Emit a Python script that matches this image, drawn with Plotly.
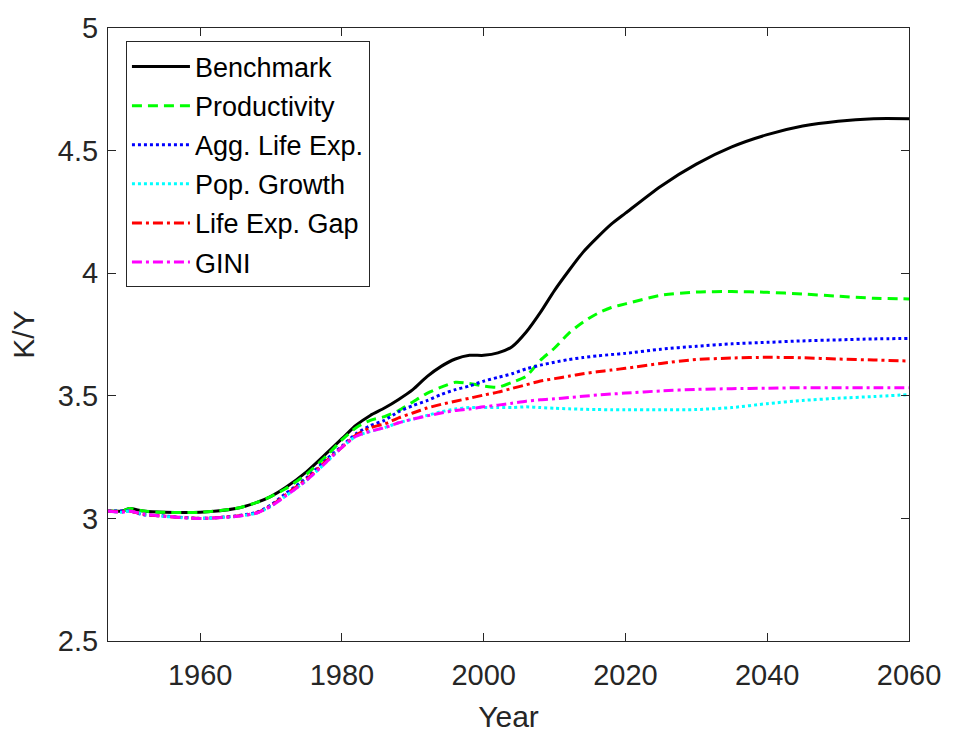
import plotly.graph_objects as go

years = [1947, 1949, 1950, 1952, 1955, 1960, 1965, 1968, 1970, 1972, 1975, 1978,
         1980, 1982, 1984, 1986, 1988, 1990, 1992, 1994, 1996, 1998, 2000, 2002,
         2004, 2006, 2008, 2010, 2012, 2014, 2016, 2018, 2020, 2025, 2030, 2035,
         2040, 2045, 2050, 2055, 2060]

benchmark = [3.03, 3.03, 3.04, 3.03, 3.025, 3.025, 3.04, 3.065, 3.09, 3.125, 3.19, 3.27,
             3.325, 3.38, 3.42, 3.45, 3.485, 3.525, 3.578, 3.62, 3.65, 3.665, 3.665, 3.675,
             3.70, 3.76, 3.84, 3.93, 4.01, 4.085, 4.145, 4.20, 4.245, 4.355, 4.445, 4.515,
             4.565, 4.60, 4.62, 4.63, 4.63]

productivity = [3.03, 3.03, 3.04, 3.03, 3.025, 3.025, 3.04, 3.065, 3.09, 3.12, 3.18, 3.26,
                3.32, 3.37, 3.40, 3.415, 3.44, 3.475, 3.51, 3.535, 3.555, 3.55, 3.54, 3.535,
                3.555, 3.58, 3.645, 3.695, 3.755, 3.80, 3.835, 3.86, 3.875, 3.91, 3.923, 3.925,
                3.922, 3.915, 3.906, 3.898, 3.895]

agg_life_exp = [3.03, 3.03, 3.03, 3.015, 3.01, 3.0, 3.01, 3.025, 3.055, 3.10, 3.165, 3.245,
                3.295, 3.345, 3.378, 3.40, 3.435, 3.46, 3.48, 3.505, 3.525, 3.54, 3.56, 3.575,
                3.59, 3.61, 3.625, 3.637, 3.648, 3.656, 3.663, 3.668, 3.673, 3.69, 3.702, 3.712,
                3.718, 3.724, 3.728, 3.732, 3.734]

pop_growth = [3.03, 3.025, 3.03, 3.018, 3.008, 3.0, 3.008, 3.022, 3.05, 3.09, 3.155, 3.235,
              3.29, 3.335, 3.355, 3.37, 3.39, 3.405, 3.42, 3.435, 3.446, 3.452, 3.452, 3.452,
              3.452, 3.455, 3.452, 3.449, 3.447, 3.445, 3.444, 3.443, 3.443, 3.443, 3.444, 3.452,
              3.468, 3.481, 3.49, 3.497, 3.505]

life_exp_gap = [3.03, 3.027, 3.03, 3.017, 3.009, 3.0, 3.009, 3.023, 3.052, 3.095, 3.16, 3.24,
                3.29, 3.34, 3.37, 3.385, 3.41, 3.43, 3.45, 3.465, 3.478, 3.49, 3.503, 3.515,
                3.53, 3.545, 3.56, 3.57, 3.58, 3.59, 3.598, 3.605, 3.612, 3.632, 3.648, 3.654,
                3.657, 3.655, 3.65, 3.646, 3.642]

gini = [3.03, 3.025, 3.03, 3.018, 3.008, 3.0, 3.008, 3.022, 3.05, 3.09, 3.155, 3.235,
        3.29, 3.335, 3.355, 3.37, 3.39, 3.405, 3.418, 3.43, 3.44, 3.446, 3.455, 3.462,
        3.47, 3.478, 3.484, 3.488, 3.493, 3.498, 3.503, 3.507, 3.511, 3.52, 3.526, 3.529,
        3.531, 3.533, 3.533, 3.533, 3.533]

series = [
    ("Benchmark", benchmark, "#000000", "solid"),
    ("Productivity", productivity, "#00ff00", "10px,6px"),
    ("Agg. Life Exp.", agg_life_exp, "#0000ff", "3px,3px"),
    ("Pop. Growth", pop_growth, "#00ffff", "3px,3px"),
    ("Life Exp. Gap", life_exp_gap, "#ff0000", "10px,4px,3px,4px"),
    ("GINI", gini, "#ff00ff", "10px,4px,3px,4px"),
]

FONT = "Liberation Sans, Arial, sans-serif"
TXT = "#262626"

fig = go.Figure()
for i, (name, vals, color, dash) in enumerate(series):
    fig.add_trace(go.Scatter(
        x=years, y=vals, name=name, mode="lines",
        line=dict(color=color, width=3, dash=dash, shape="spline", smoothing=0.7),
        legendgroup=f"g{i}",
    ))

axis_common = dict(
    showgrid=False, zeroline=False, showline=True, linecolor=TXT, linewidth=1,
    mirror="ticks", ticks="inside", ticklen=8, tickcolor=TXT, tickwidth=1,
    tickfont=dict(family=FONT, size=29, color=TXT),
)

fig.update_layout(
    width=953, height=740,
    margin=dict(l=108, r=42, t=23, b=97),
    paper_bgcolor="white", plot_bgcolor="white",
    font=dict(family=FONT, color=TXT),
    xaxis=dict(range=[1947, 2060], tickmode="array",
               tickvals=[1960, 1980, 2000, 2020, 2040, 2060],
               ticklabelstandoff=8,
               title=dict(text="Year", font=dict(family=FONT, size=30, color=TXT), standoff=16),
               **axis_common),
    yaxis=dict(range=[2.5, 5], tickmode="array",
               tickvals=[2.5, 3, 3.5, 4, 4.5, 5],
               ticktext=["2.5", "3", "3.5", "4", "4.5", "5"],
               ticklabelstandoff=3,
               title=dict(text="K/Y", font=dict(family=FONT, size=30, color=TXT), standoff=14),
               **axis_common),
    legend=dict(
        x=0.0224, y=0.978, xanchor="left", yanchor="top",
        bgcolor="white", bordercolor="#262626", borderwidth=1,
        font=dict(family=FONT, size=27, color="#000000"),
        tracegroupgap=1, itemwidth=58,
    ),
    showlegend=True,
)

fig.write_html("out.html")
